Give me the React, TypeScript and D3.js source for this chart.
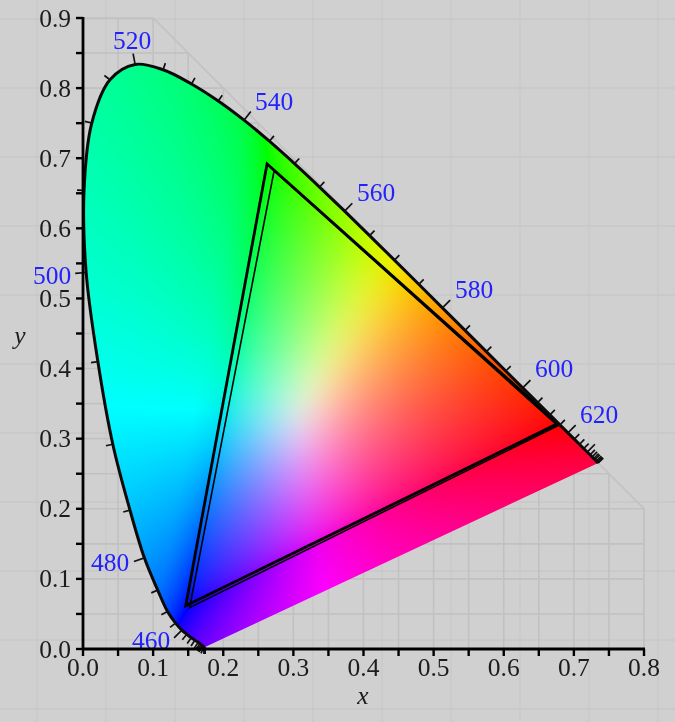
import React, { useMemo } from "react";
import * as d3 from "d3";

const wavelengths = [380,385,390,395,400,405,410,415,420,425,430,435,440,445,450,455,460,465,470,475,480,485,490,495,500,505,510,515,520,525,530,535,540,545,550,555,560,565,570,575,580,585,590,595,600,605,610,615,620,625,630,635,640,645,650,655,660,665,670,675,680];
const locusX = [0.1741,0.174,0.1738,0.1736,0.1733,0.173,0.1726,0.1721,0.1714,0.1703,0.1689,0.1669,0.1644,0.1595,0.1545,0.148,0.141,0.132,0.1205,0.1065,0.0875,0.067,0.0425,0.0212,0.0045,0.0015,0.0125,0.0385,0.0743,0.1142,0.1547,0.1929,0.2296,0.2658,0.3016,0.3373,0.3731,0.4087,0.4441,0.4788,0.5125,0.5448,0.5752,0.6029,0.627,0.6482,0.6658,0.6801,0.6915,0.7006,0.7079,0.714,0.719,0.723,0.726,0.7283,0.73,0.732,0.7334,0.7344,0.7347];
const locusY = [0.003,0.003,0.003,0.003,0.003,0.003,0.003,0.003,0.0035,0.0045,0.006,0.0075,0.0095,0.0125,0.016,0.021,0.027,0.037,0.0535,0.084,0.13,0.198,0.292,0.41,0.537,0.654,0.7502,0.812,0.8338,0.8262,0.8059,0.7816,0.7543,0.7243,0.6923,0.6589,0.6245,0.5896,0.5547,0.5202,0.4866,0.4544,0.4242,0.3965,0.3725,0.3514,0.334,0.3197,0.3083,0.2993,0.292,0.2859,0.2809,0.277,0.274,0.2717,0.27,0.268,0.2666,0.2656,0.2653];

const labelledNm = [460,480,500,520,540,560,580,600,620];
const labelX = [151,110,52,132,274,376,474,554,599];
const labelY = [640,562,275,40,101,192,289,368,414];

const xMajor = [0,0.1,0.2,0.3,0.4,0.5,0.6,0.7,0.8];
const yMajor = [0,0.1,0.2,0.3,0.4,0.5,0.6,0.7,0.8,0.9];
const minorGrid = [0.05,0.15,0.25,0.35,0.45,0.55,0.65,0.75,0.85];

const outerTri = [[0.677,0.3215],[0.2625,0.692],[0.1465,0.0615]];
const innerTri = [[0.677,0.3185],[0.2725,0.682],[0.152,0.059]];
const whiteXY = [0.3127,0.329];
const bounds = [[0,0],[0.8,0],[0.8,0.2],[0.1,0.9],[0,0.9]];

const W = 675, H = 722;
const pageLinesX = d3.range(37, W, 69);
const pageLinesY = d3.range(19, H, 69);
const BG = "#d0d0d0", GRID = "#c1c1c1", SOFT = "#c9c9c9";
const SERIF = "'Liberation Serif', serif";

const x = d3.scaleLinear().domain([0, 0.8]).range([83, 644]);
const y = d3.scaleLinear().domain([0, 0.9]).range([649, 18]);

const M = [[2.4935,-0.9314,-0.4027],[-0.8295,1.7627,0.0236],[0.0358,-0.0762,0.9569]];
const channelGain = [1, 0.95, 1];
function colour(cx: number, cy: number): number[] {
  const X = cx, Y = cy, Z = 1 - cx - cy;
  const raw = M.map((r, i) => (r[0]*X + r[1]*Y + r[2]*Z) * channelGain[i]);
  const low = Math.min(raw[0], raw[1], raw[2], 0);
  const v = raw.map((c) => c - low);
  const t = Math.min(1, -low * 8);
  const gamma = 1.35 + 0.45 * t;
  const mx = Math.max(v[0], v[1], v[2]) || 1;
  const pn = Math.pow(v[0]**6 + v[1]**6 + v[2]**6, 1 / 6) || 1;
  const m = pn + (mx - pn) * t;
  return v.map((c) => Math.round(255 * Math.pow(Math.min(1, c / m), 1 / gamma)));
}

function gamutImage(): string {
  const c = document.createElement("canvas");
  c.width = W; c.height = H;
  const g = c.getContext("2d")!;
  const img = g.createImageData(W, H);
  for (let j = 0; j < H; j++) for (let i = 0; i < W; i++) {
    const cx = x.invert(i + 0.5), cy = y.invert(j + 0.5);
    if (cx < -0.02 || cy < -0.02 || cx + cy > 1.02) continue;
    const [r, gg, b] = colour(cx, cy);
    const k = (j * W + i) * 4;
    img.data[k] = r; img.data[k+1] = gg; img.data[k+2] = b; img.data[k+3] = 255;
  }
  g.putImageData(img, 0, 0);
  return c.toDataURL("image/png");
}

const line = d3.line<number>().x((_, i) => x(locusX[i])).y((_, i) => y(locusY[i])).curve(d3.curveCatmullRom);
const triPath = (t: number[][]) => "M" + t.map((p) => `${x(p[0])},${y(p[1])}`).join("L") + "Z";

function tick(i: number) {
  const a = Math.max(0, i - 1), b = Math.min(wavelengths.length - 1, i + 1);
  const dx = x(locusX[b]) - x(locusX[a]), dy = y(locusY[b]) - y(locusY[a]);
  const d = Math.hypot(dx, dy) || 1;
  let nx = -dy / d, ny = dx / d;
  const px = x(locusX[i]), py = y(locusY[i]);
  if (nx * (px - x(whiteXY[0])) + ny * (py - y(whiteXY[1])) < 0) { nx = -nx; ny = -ny; }
  const len = wavelengths[i] % 20 === 0 && wavelengths[i] >= 460 && wavelengths[i] <= 640 ? 11 : 7;
  return { x1: px, y1: py, x2: px + nx * len, y2: py + ny * len };
}

export default function App() {
  const href = useMemo(gamutImage, []);
  const locus = line(wavelengths)!;
  const boundsPath = "M" + bounds.map((p) => `${x(p[0])},${y(p[1])}`).join("L") + "Z";
  return (
    <svg width={W} height={H} viewBox={`0 0 ${W} ${H}`}
      style={{ position: "absolute", left: 0, top: 0, background: BG, filter: "blur(0.7px)" }}>
      <defs>
        <clipPath id="locus"><path d={locus + "Z"} /></clipPath>
        <clipPath id="bounds"><path d={boundsPath} /></clipPath>
      </defs>
      <g stroke={SOFT} strokeWidth={1.4}>
        {pageLinesX.map((v) => <line key={v} x1={v} x2={v} y1={0} y2={H} />)}
        {pageLinesY.map((v) => <line key={v} x1={0} x2={W} y1={v} y2={v} />)}
      </g>
      <g stroke={GRID} strokeWidth={1.6} clipPath="url(#bounds)">
        {[...xMajor, ...minorGrid].filter((v) => v <= 0.8).map((v) => <line key={v} x1={x(v)} x2={x(v)} y1={y(0)} y2={y(0.9)} />)}
        {[...yMajor, ...minorGrid].map((v) => <line key={v} x1={x(0)} x2={x(0.8)} y1={y(v)} y2={y(v)} />)}
      </g>
      <path d={boundsPath} fill="none" stroke={GRID} strokeWidth={1.6} />
      <image href={href} x={0} y={0} width={W} height={H} clipPath="url(#locus)" />
      <path d={triPath(outerTri)} fill="none" stroke="#000" strokeWidth={2.8} strokeLinejoin="miter" />
      <path d={triPath(innerTri)} fill="none" stroke="#000" strokeWidth={1.6} strokeLinejoin="miter" />
      <path d={locus} fill="none" stroke="#0a0a0a" strokeWidth={3} />
      <g stroke="#111" strokeWidth={1.7}>
        {wavelengths.map((w, i) => <line key={w} {...tick(i)} />)}
      </g>
      <g fill="#2222ff" fontFamily={SERIF} fontSize={25.5} textAnchor="middle" dominantBaseline="central">
        {labelledNm.map((w, i) => <text key={w} x={labelX[i]} y={labelY[i]}>{w}</text>)}
      </g>
      <g stroke="#000" fill="none">
        <line x1={x(0)} x2={x(0.8) + 1} y1={y(0)} y2={y(0)} strokeWidth={2.8} />
        <line x1={x(0)} x2={x(0)} y1={y(0) + 1} y2={y(0.9) - 1} strokeWidth={2.8} />
        {[...xMajor, ...minorGrid].filter((v) => v <= 0.8).map((v) => <line key={v} x1={x(v)} x2={x(v)} y1={y(0)} y2={y(0) + 7} strokeWidth={2.4} />)}
        {[...yMajor, ...minorGrid].map((v) => <line key={v} x1={x(0) - 7} x2={x(0)} y1={y(v)} y2={y(v)} strokeWidth={2.4} />)}
      </g>
      <g fill="#1c1c1c" fontFamily={SERIF} fontSize={25.5}>
        {xMajor.map((v) => <text key={v} x={x(v)} y={676} textAnchor="middle">{v.toFixed(1)}</text>)}
        {yMajor.map((v) => <text key={v} x={71} y={y(v) + 8.5} textAnchor="end">{v.toFixed(1)}</text>)}
        <text x={363} y={704} textAnchor="middle" fontStyle="italic">x</text>
        <text x={20} y={344} textAnchor="middle" fontStyle="italic">y</text>
      </g>
    </svg>
  );
}
